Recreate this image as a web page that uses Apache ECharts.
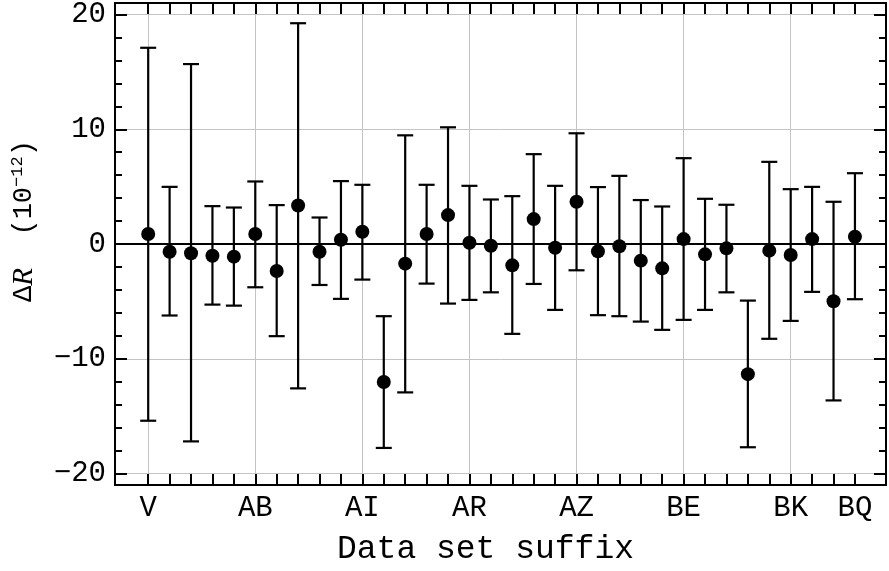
<!DOCTYPE html>
<html>
<head>
<meta charset="utf-8">
<script src="https://cdn.jsdelivr.net/npm/echarts@6/dist/echarts.min.js"></script>
<style>html,body{margin:0;padding:0;background:#fff}#c{width:889px;height:571px}</style>
</head>
<body>
<div id="c"></div>
<script>
// Data set index (0..33) along x
const pointIndex = [0,1,2,3,4,5,6,7,8,9,10,11,12,13,14,15,16,17,18,19,20,21,22,23,24,25,26,27,28,29,30,31,32,33];
// Central values of ΔR (1e-12)
const values = [0.87,-0.67,-0.81,-1.02,-1.10,0.87,-2.35,3.36,-0.67,0.37,1.07,-12.03,-1.71,0.87,2.52,0.11,-0.15,-1.86,2.17,-0.32,3.68,-0.64,-0.20,-1.45,-2.12,0.43,-0.90,-0.38,-11.34,-0.58,-0.96,0.43,-4.99,0.63];
// Upper ends of error bars
const upper = [17.1,4.98,15.68,3.30,3.18,5.45,3.39,19.24,2.31,5.48,5.16,-6.29,9.47,5.16,10.17,5.07,3.88,4.17,7.83,5.07,9.65,4.96,5.94,3.83,3.27,7.48,3.94,3.42,-4.93,7.16,4.78,4.98,3.68,6.17];
// Lower ends of error bars
const lower = [-15.4,-6.23,-17.2,-5.28,-5.37,-3.77,-8.03,-12.58,-3.57,-4.78,-3.10,-17.77,-12.93,-3.45,-5.19,-4.87,-4.21,-7.83,-3.48,-5.74,-2.29,-6.20,-6.29,-6.76,-7.48,-6.61,-5.74,-4.21,-17.71,-8.26,-6.70,-4.17,-13.63,-4.81];
// Labelled positions on x axis
const labelIndex = [0,5,10,15,20,25,30,33];
const labelText = ["V","AB","AI","AR","AZ","BE","BK","BQ"];
// Vertical grid lines positions
const gridIndex = [0,5,10,15,20,25,30];
// Y ticks
const yMajor = [-20,-10,0,10,20];
const yMinor = [-18,-16,-14,-12,-8,-6,-4,-2,2,4,6,8,12,14,16,18];

const FONT = "Liberation Mono";
const X_MIN = -1.55, X_MAX = 34.45, Y_MIN = -21, Y_MAX = 21;
const black = '#000';
const gray = '#c4c4c4';

function xAx(extra) {
  return Object.assign({
    type: 'value', min: X_MIN, max: X_MAX, gridIndex: 0,
    axisLine: {show: true, onZero: false, lineStyle: {color: black, width: 2}},
    axisTick: {show: true, inside: true, length: 11, customValues: pointIndex, lineStyle: {color: black, width: 2}},
    axisLabel: {show: false},
    splitLine: {show: false}
  }, extra);
}
function yAx(extra) {
  return Object.assign({
    type: 'value', min: Y_MIN, max: Y_MAX,
    axisLine: {show: true, onZero: false, lineStyle: {color: black, width: 2}},
    axisTick: {show: true, inside: true, length: 12, customValues: yMajor, lineStyle: {color: black, width: 2}},
    axisLabel: {show: false},
    splitLine: {show: false}
  }, extra);
}

const chart = echarts.init(document.getElementById('c'), null, {renderer: 'canvas'});
chart.setOption({
  animation: false,
  backgroundColor: '#fff',
  grid: {left: 115, right: 3, top: 1, bottom: 86, containLabel: false},
  xAxis: [
    xAx({
      position: 'bottom',
      axisLabel: {
        show: true, customValues: labelIndex, margin: 9,
        fontFamily: FONT, fontSize: 29, color: black,
        formatter: v => labelText[labelIndex.indexOf(Math.round(v))] || ''
      },
      name: 'Data set suffix', nameLocation: 'middle', nameGap: 48,
      nameTextStyle: {fontFamily: FONT, fontSize: 33, color: black, padding: [0, 30, 0, 0]}
    }),
    xAx({position: 'top'}),
    xAx({
      position: 'bottom',
      axisLine: {show: false, onZero: false},
      axisTick: {show: false, customValues: gridIndex},
      splitLine: {show: true, lineStyle: {color: gray, width: 1}}
    })
  ],
  yAxis: [
    yAx({
      position: 'left',
      axisLabel: {
        show: true, customValues: yMajor, margin: 9,
        fontFamily: FONT, fontSize: 29, color: black,
        formatter: v => (v < 0 ? '\u2212' + Math.abs(v) : String(v))
      },
      splitLine: {show: true, lineStyle: {color: gray, width: 1}},
      name: '{d|\u0394}{i|R}{d|  (10}{s|\u221212}{d|)}',
      nameLocation: 'middle', nameGap: 76, nameRotate: 90,
      nameTextStyle: {
        color: black,
        padding: [0, 0, 0, 46],
        rich: {
          d: {fontFamily: FONT, fontSize: 27, color: black},
          i: {fontFamily: 'Liberation Serif', fontStyle: 'italic', fontSize: 29, color: black},
          s: {fontFamily: FONT, fontSize: 17, color: black, verticalAlign: 'top', padding: [0,0,13,0]}
        }
      }
    }),
    yAx({position: 'left', axisTick: {show: true, inside: true, length: 7, customValues: yMinor, lineStyle: {color: black, width: 2}}}),
    yAx({position: 'right'}),
    yAx({position: 'right', axisTick: {show: true, inside: true, length: 7, customValues: yMinor, lineStyle: {color: black, width: 2}}})
  ],
  series: [
    {
      type: 'custom',
      xAxisIndex: 0, yAxisIndex: 0,
      data: pointIndex.map(i => [i, lower[i], upper[i]]),
      renderItem: function (params, api) {
        const x = api.value(0);
        const pLo = api.coord([x, api.value(1)]);
        const pHi = api.coord([x, api.value(2)]);
        const w = 8;
        const st = {stroke: black, lineWidth: 2.2};
        return {
          type: 'group',
          children: [
            {type: 'line', shape: {x1: pLo[0], y1: pLo[1], x2: pHi[0], y2: pHi[1]}, style: st},
            {type: 'line', shape: {x1: pHi[0] - w, y1: pHi[1], x2: pHi[0] + w, y2: pHi[1]}, style: st},
            {type: 'line', shape: {x1: pLo[0] - w, y1: pLo[1], x2: pLo[0] + w, y2: pLo[1]}, style: st}
          ]
        };
      },
      markLine: {
        silent: true, symbol: ['none', 'none'], label: {show: false},
        lineStyle: {color: black, width: 2, type: 'solid'},
        data: [{yAxis: 0}]
      },
      z: 3
    },
    {
      type: 'scatter',
      xAxisIndex: 0, yAxisIndex: 0,
      data: pointIndex.map(i => [i, values[i]]),
      symbol: 'circle', symbolSize: 14,
      itemStyle: {color: black, opacity: 1},
      z: 4
    }
  ]
});
</script>
</body>
</html>
